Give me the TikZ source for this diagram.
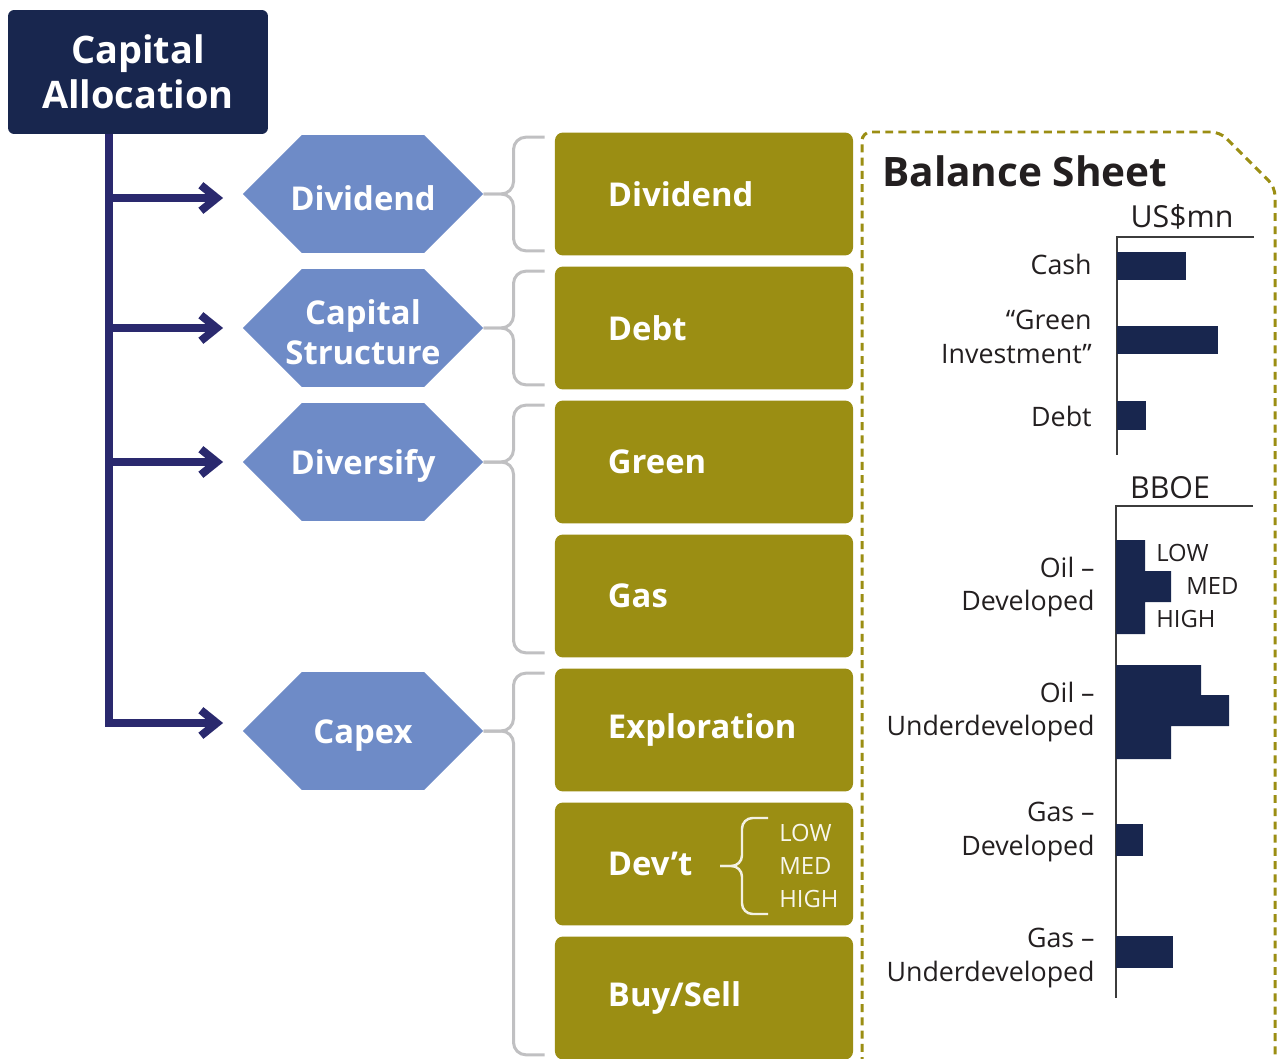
\documentclass[tikz,border=0pt]{standalone}
\usepackage{fontspec}
\setmainfont{Open Sans}
\usetikzlibrary{arrows.meta, shapes.symbols, calc}

\definecolor{capnavy}{RGB}{24,38,78}
\definecolor{arrowc}{RGB}{42,41,110}
\definecolor{hexblue}{RGB}{110,139,199}
\definecolor{olivebox}{RGB}{155,142,19}
\definecolor{braceg}{RGB}{192,192,194}
\definecolor{txtdark}{RGB}{35,31,32}
\definecolor{axisg}{RGB}{60,60,60}

\newcommand{\pxu}{0.567pt}
\newcommand{\fsTitle}{\bfseries\fontsize{21.5}{25.5}\selectfont}
\newcommand{\fsHead}{\bfseries\fontsize{23}{25.5}\selectfont}
\newcommand{\fsBox}{\bfseries\fontsize{18.6}{22.7}\selectfont}
\newcommand{\fsLbl}{\fontsize{15.2}{18.9}\selectfont}
\newcommand{\fsUnit}{\fontsize{17.2}{19}\selectfont}
\newcommand{\fsLvl}{\fontsize{13.5}{18.7}\selectfont}

\tikzset{
  capbox/.style={fill=capnavy, rounded corners=3.5pt, minimum width=147.4pt, minimum height=70.3pt, text=white, align=center, font=\fsTitle},
  hexnode/.style={signal, signal to=west and east, signal pointer angle=90, fill=hexblue, minimum width=136.1pt, minimum height=66.9pt, inner sep=0pt, label={[hexlbl]center:#1}},
  hexlbl/.style={text=white, align=center, font=\fsBox, inner sep=0pt, yshift=-2.4pt},
  optbox/.style={fill=olivebox, rounded corners=4.5pt, minimum width=169pt, minimum height=69.7pt, text width=108.9pt, inner xsep=30.05pt, align=left, text=white, font=\fsBox},
  arrowline/.style={draw=arrowc, line width=4.5pt, -{Straight Barb[length=9pt,width=14.5pt]}, shorten >=11pt},
  gbrace/.style={draw=braceg, line width=1.7pt, rounded corners=7pt},
  wbrace/.style={draw=white!88!olivebox, line width=1.4pt, rounded corners=6pt},
  bsframe/.style={draw=olivebox, line width=1.7pt, dash pattern=on 4.5pt off 3pt, rounded corners=5pt},
  chartaxis/.style={draw=axisg, line width=1pt},
  bar/.style={fill=capnavy},
  lbl/.style={text=txtdark, font=\fsLbl, inner sep=0pt},
  lvltxt/.style={text=white!92!olivebox, font=\fsLvl, inner sep=0pt, align=left},
  lvlchart/.style={text=txtdark, font=\fsLvl, inner sep=0pt}
}

\begin{document}
\begin{tikzpicture}[x=\pxu, y=-\pxu]
\useasboundingbox (0,0) rectangle (1277,1059);

%capital allocation box
\node[capbox] (cap) at (138,72) {Capital\\Allocation};

%hexagons
\node[hexnode=Dividend] (hDiv) at (363,194) {};
\node[hexnode={Capital\\Structure}] (hStr) at (363,328) {};
\node[hexnode=Diversify] (hDvf) at (363,462) {};
\node[hexnode=Capex] (hCpx) at (363,731) {};

%spine + arrows
\coordinate (sp) at (109,134);
\draw[arrowline] (sp |- hDiv.west) ++(0,4) -- ($(hDiv.west)+(0,4)$);
\draw[arrowline] (sp |- hStr.west) -- (hStr.west);
\draw[arrowline] (sp |- hDvf.west) -- (hDvf.west);
\draw[arrowline] (sp) |- ($(hCpx.west)+(0,-8)$);

%option boxes
\node[optbox] (bDiv) at (704,194) {Dividend};
\node[optbox] (bDbt) at (704,328) {Debt};
\node[optbox] (bGrn) at (704,462) {Green};
\node[optbox] (bGas) at (704,596) {Gas};
\node[optbox] (bExp) at (704,730) {Exploration};
\node[optbox] (bDev) at (704,864) {Dev’t};
\node[optbox] (bBuy) at (704,998) {Buy/Sell};

%braces
\draw[gbrace] (hDiv.east) -- ++(30,0) |- ($(bDiv.north west)+(-10,5)$);
\draw[gbrace] (hDiv.east) -- ++(30,0) |- ($(bDiv.south west)+(-10,-5)$);
\draw[gbrace] (hStr.east) -- ++(30,0) |- ($(bDbt.north west)+(-10,5)$);
\draw[gbrace] (hStr.east) -- ++(30,0) |- ($(bDbt.south west)+(-10,-5)$);
\draw[gbrace] (hDvf.east) -- ++(30,0) |- ($(bGrn.north west)+(-10,5)$);
\draw[gbrace] (hDvf.east) -- ++(30,0) |- ($(bGas.south west)+(-10,-5)$);
\draw[gbrace] (hCpx.east) -- ++(30,0) |- ($(bExp.north west)+(-10,5)$);
\draw[gbrace] (hCpx.east) -- ++(30,0) |- ($(bBuy.south west)+(-10,-5)$);

%dev't levels
\node[lvltxt, anchor=west] (dLvl) at (779,866) {LOW\\MED\\HIGH};
\coordinate (dTip) at (720,866);
\draw[wbrace] (dTip) -- ++(22,0) |- (768,818);
\draw[wbrace] (dTip) -- ++(22,0) |- (768,914);

%balance sheet frame
\draw[bsframe] (862,1065) -- (862,132) -- (1220,132) -- (1275,187) -- (1275,1065);
\node[lbl, anchor=base west, font=\fsHead] (bsTitle) at (882,187) {Balance Sheet};

%US$mn chart
\node[lbl, anchor=base, font=\fsUnit] (usd) at (1182,228) {US\$mn};
\draw[chartaxis] (1254,237) -- (1117,237) -- (1117,455);
\fill[bar] (1117,252) rectangle (1186,280); %cash
\fill[bar] (1117,326) rectangle (1218,354); %green
\fill[bar] (1117,401) rectangle (1146,430); %debt
\node[lbl, anchor=east, align=right] (lCash) at (1092,264) {Cash};
\node[lbl, anchor=east, align=right] (lGrn) at (1092,337) {“Green\\Investment”};
\node[lbl, anchor=east, align=right] (lDebt) at (1092,416) {Debt};

%BBOE chart
\node[lbl, anchor=base, font=\fsUnit] (bboe) at (1170,498) {BBOE};
\draw[chartaxis] (1253,506) -- (1116,506) -- (1116,998);
\fill[bar] (1116,540) -- (1145,540) -- (1145,571) -- (1171,571) -- (1171,602) -- (1145,602) -- (1145,634) -- (1116,634) -- cycle; %oil dev
\fill[bar] (1116,665) -- (1201,665) -- (1201,695) -- (1229,695) -- (1229,726) -- (1171,726) -- (1171,759) -- (1116,759) -- cycle; %oil under
\fill[bar] (1116,824) rectangle (1143,856); %gas dev
\fill[bar] (1116,936) rectangle (1173,968); %gas under
\node[lvlchart, anchor=west] (cLow) at (1156,553) {LOW};
\node[lvlchart, anchor=west] (cMed) at (1186,586) {MED};
\node[lvlchart, anchor=west] (cHigh) at (1156,619) {HIGH};
\node[lbl, anchor=east, align=right] (lOilD) at (1095,587) {Oil –\\Developed};
\node[lbl, anchor=east, align=right] (lOilU) at (1095,712) {Oil –\\Underdeveloped};
\node[lbl, anchor=east, align=right] (lGasD) at (1095,832) {Gas –\\Developed};
\node[lbl, anchor=east, align=right] (lGasU) at (1095,958) {Gas –\\Underdeveloped};
\end{tikzpicture}
\end{document}
